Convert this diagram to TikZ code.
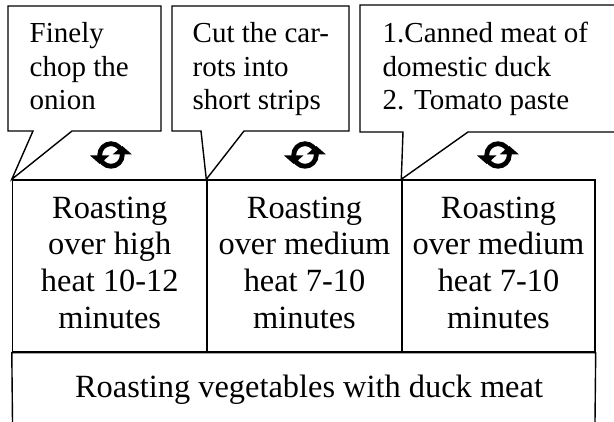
\documentclass[tikz,border=0pt]{standalone}
\usepackage{fontspec}
\setmainfont{Liberation Serif}
\begin{document}
\begin{tikzpicture}[x=1pt,y=-1pt,line width=1.4pt,line join=miter,
  col/.style={draw,inner sep=0pt,minimum height=172pt,align=center,
    font=\fontsize{32.4}{36.8}\selectfont},
  note/.style={anchor=west,inner sep=0pt,align=left,
    font=\fontsize{29}{33.5}\selectfont},
  big/.style={inner sep=0pt,font=\fontsize{32.4}{36.8}\selectfont},
  cyc/.pic={
    \draw[line width=4.8pt] (0,0) circle (11.3pt);
    \fill (-21,0.5) -- (-1.6,0.5) -- (-11.3,9) -- cycle;
    \fill (1.6,-0.5) -- (21,-0.5) -- (11.3,-9) -- cycle;
  }]
\fill[white] (0,0) rectangle (614,422);
\useasboundingbox (0,0) rectangle (614,422);
% column boxes
\node[col,minimum width=194.5pt] (c1) at (109.75,266) {\strut Roasting\\over high\\heat 10-12\\minutes\strut};
\node[col,minimum width=195pt] (c2) at (304.5,266) {\strut Roasting\\over medium\\heat 7-10\\minutes\strut};
\node[col,minimum width=193pt] (c3) at (498.5,266) {\strut Roasting\\over medium\\heat 7-10\\minutes\strut};
% bottom box (open at the bottom edge)
\coordinate (bl) at (12.5,422);
\coordinate (br) at (595,422);
\draw (bl) -- (c1.south west) -- (c3.south east) -- (br);
\node[big] (bot) at (309,390.6) {\strut Roasting vegetables with duck meat};
% callouts
\draw (161,131) -- (161,6) -- (8,6) -- (8,131) -- (33,131) -- (c1.north west) -- (72,131) -- cycle;
\draw (349,131) -- (349,6) -- (172,6) -- (172,131) -- (201,131) -- (c2.north west) -- (244,131) -- cycle;
\coordinate (e1) at (614,132);
\coordinate (e2) at (614,5);
\draw (e1) -- (468,132) -- (c3.north west) -- (403,132) -- (360,132) -- (360,5) -- (e2);
\node[note] (n1) at (29,69.8) {\strut Finely\\chop the\\onion\strut};
\node[note] (n2) at (192,69.8) {\strut Cut the car-\\rots into\\short strips\strut};
\node[note] (n3) at (382,69.8) {\strut 1.Canned meat of\\domestic duck\\2. Tomato paste\strut};
% cycle icons
\pic at (111,155) {cyc};
\pic at (305,155) {cyc};
\pic at (498,155) {cyc};
\end{tikzpicture}
\end{document}
